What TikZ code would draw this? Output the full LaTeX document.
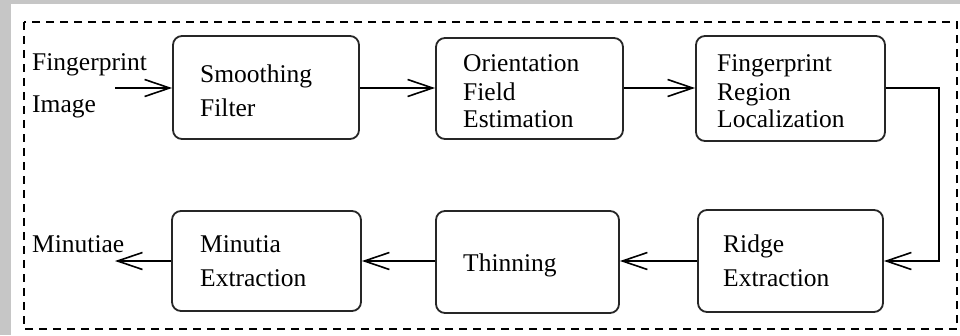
\documentclass[tikz,border=0pt]{standalone}
\usepackage{fontspec}
\setmainfont{Liberation Serif}
\usetikzlibrary{arrows.meta}
\definecolor{panelgrey}{RGB}{198,198,198}
\tikzset{
  stagebox/.style={draw=black!85, line width=1.8pt, rounded corners=9pt},
  txt/.style={anchor=base west, inner sep=0pt, font=\fontsize{25.5}{30}\selectfont},
  flow/.style={line width=1.8pt, -{Straight Barb[length=25pt,width=17pt,line width=1.6pt]}},
  frame/.style={line width=1.8pt, dash pattern=on 8pt off 6pt},
}
\begin{document}
\begin{tikzpicture}[x=1pt, y=-1pt]
\useasboundingbox (0,0) rectangle (960,335);
% background and paper
\fill[panelgrey] (0,0) rectangle (960,335);
\fill[white] (11,4) rectangle (960,335);
\draw[frame] (24,22) rectangle (957,329);

% top row
\node[stagebox, minimum width=186pt, minimum height=103pt] (smooth) at (266,87.5) {};
\node[stagebox, minimum width=187pt, minimum height=101pt] (orient) at (529.5,88.5) {};
\node[stagebox, minimum width=189pt, minimum height=105pt] (region) at (790.5,88.5) {};
% bottom row
\node[stagebox, minimum width=189pt, minimum height=100pt] (minutia) at (266.5,261) {};
\node[stagebox, minimum width=183pt, minimum height=102pt] (thin) at (527.5,262) {};
\node[stagebox, minimum width=185pt, minimum height=102pt] (ridge) at (790.5,261) {};

% labels
\node[txt] (inA) at (32,70) {Fingerprint};
\node[txt] (inB) at (32,112) {Image};
\node[txt] at (200,82) {Smoothing};
\node[txt] at (200,116) {Filter};
\node[txt] at (463,71) {Orientation};
\node[txt] at (463,100) {Field};
\node[txt] at (463,127) {Estimation};
\node[txt] at (717,71) {Fingerprint};
\node[txt] at (717,100) {Region};
\node[txt] at (717,127) {Localization};
\node[txt] at (723,252) {Ridge};
\node[txt] at (723,286) {Extraction};
\node[txt] at (463,271) {Thinning};
\node[txt] at (200,252) {Minutia};
\node[txt] at (200,286) {Extraction};
\node[txt] (out) at (32,252) {Minutiae};

% connectors
\coordinate (src) at (115,88);
\coordinate (sink) at (115,261);
\coordinate (turn) at (939,88);
\draw[flow] (src) -- (smooth.west |- src);
\draw[flow] (smooth.east |- 0,88) -- (orient.west |- 0,88);
\draw[flow] (orient.east |- 0,88) -- (region.west |- 0,88);
\draw[flow] (region.east |- 0,88) -- (turn) |- (ridge.east |- 0,261);
\draw[flow] (ridge.west |- 0,261) -- (thin.east |- 0,261);
\draw[flow] (thin.west |- 0,261) -- (minutia.east |- 0,261);
\draw[flow] (minutia.west |- sink) -- (sink);
\end{tikzpicture}
\end{document}
